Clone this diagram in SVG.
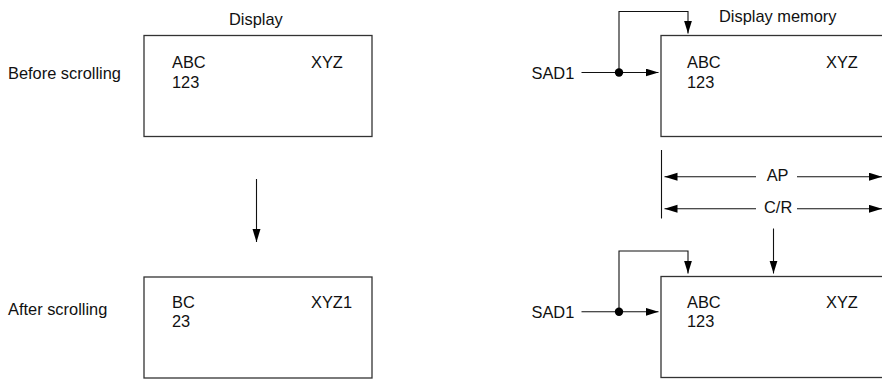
<svg xmlns="http://www.w3.org/2000/svg" width="882" height="379" viewBox="0 0 882 379">
<style>
text{font-family:"Liberation Sans",Arial,sans-serif;font-size:16.4px;fill:#111}
.box{fill:#fff;stroke:#333;stroke-width:1.3}
.ln{fill:none;stroke:#111;stroke-width:1.1}
.dot{fill:#000}
</style>
<defs>
<marker id="ah" markerUnits="userSpaceOnUse" markerWidth="14" markerHeight="9" refX="13" refY="4" orient="auto">
<path d="M0,0 L13,4 L0,8 z" fill="#000"/>
</marker>
</defs>
<rect width="882" height="379" fill="#fff"/>
<g id="labels">
<text x="229" y="24.5">Display</text>
<text x="719" y="21.5">Display memory</text>
<text x="8" y="78.5">Before scrolling</text>
<text x="8" y="315">After scrolling</text>
</g>
<g id="display-before">
<rect class="box" x="144" y="35.5" width="228" height="101"/>
<text x="172" y="68.3">ABC</text>
<text x="172" y="88.3">123</text>
<text x="311" y="68.3">XYZ</text>
</g>
<g id="display-after">
<rect class="box" x="144" y="277" width="228" height="101"/>
<text x="172" y="308.3">BC</text>
<text x="172" y="327.3">23</text>
<text x="311" y="308.3">XYZ1</text>
</g>
<g id="memory-before">
<rect class="box" x="661" y="35.5" width="240" height="101"/>
<text x="687" y="68.3">ABC</text>
<text x="687" y="88.3">123</text>
<text x="826" y="68.3">XYZ</text>
</g>
<g id="memory-after">
<rect class="box" x="661" y="276.5" width="240" height="101"/>
<text x="687" y="308.3">ABC</text>
<text x="687" y="327.3">123</text>
<text x="826" y="308.3">XYZ</text>
</g>
<g id="sad1-before">
<text x="531.5" y="79">SAD1</text>
</g>
<g id="sad1-after">
<text x="531.5" y="318.3">SAD1</text>
</g>
<g id="dimension">
<line class="ln" x1="661.5" y1="150" x2="661.5" y2="218.5"/>
<text x="766.7" y="180.8">AP</text>
<text x="764" y="213.3">C/R</text>
</g>
<g id="connectors">
<line class="ln" x1="256.5" y1="179" x2="256.5" y2="242" marker-end="url(#ah)"/>
<line class="ln" x1="581.5" y1="72.5" x2="658.5" y2="72.5" marker-end="url(#ah)"/>
<polyline class="ln" points="619,72.5 619,11.5 688,11.5 688,33.5" marker-end="url(#ah)"/>
<circle class="dot" cx="619" cy="72.5" r="4.2"/>
<line class="ln" x1="581.5" y1="311.8" x2="658.5" y2="311.8" marker-end="url(#ah)"/>
<polyline class="ln" points="619,311.8 619,251 688,251 688,273.5" marker-end="url(#ah)"/>
<circle class="dot" cx="619" cy="311.8" r="4.2"/>
<line class="ln" x1="756" y1="176.7" x2="664.5" y2="176.7" marker-end="url(#ah)"/>
<line class="ln" x1="797" y1="176.7" x2="882" y2="176.7" marker-end="url(#ah)"/>
<line class="ln" x1="756" y1="208.8" x2="664.5" y2="208.8" marker-end="url(#ah)"/>
<line class="ln" x1="797" y1="208.8" x2="882" y2="208.8" marker-end="url(#ah)"/>
<line class="ln" x1="773.5" y1="228.5" x2="773.5" y2="273.5" marker-end="url(#ah)"/>
</g>
</svg>
